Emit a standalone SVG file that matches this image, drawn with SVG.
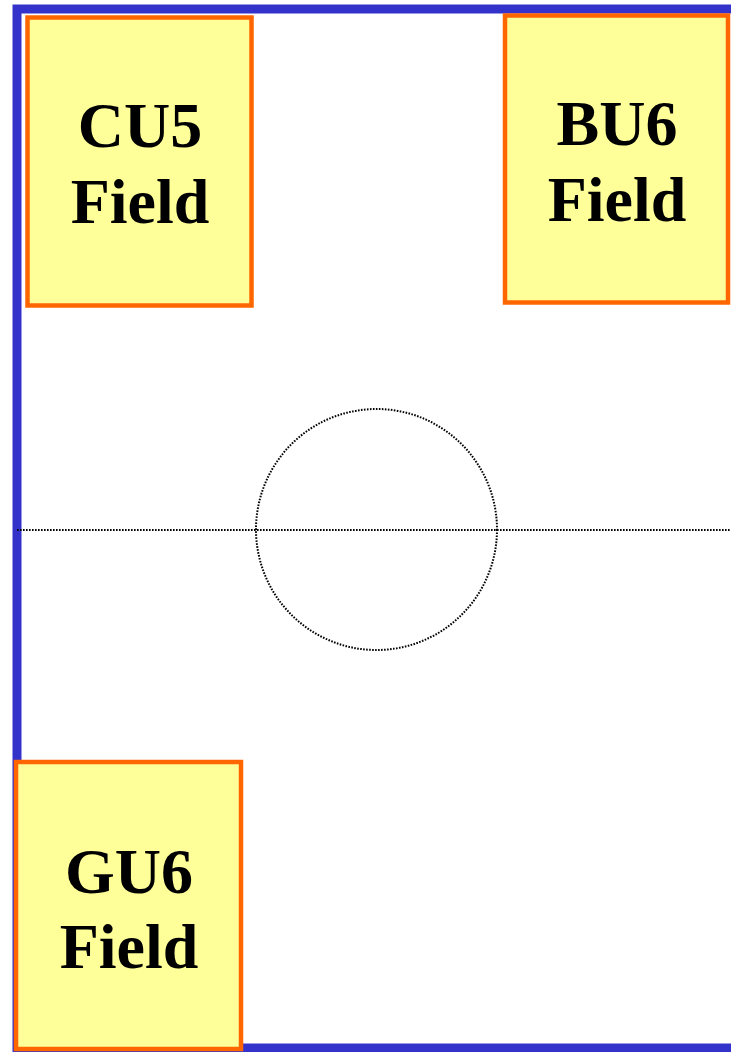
<svg xmlns="http://www.w3.org/2000/svg" width="731" height="1052" viewBox="0 0 731 1052">
<style>
.field{fill:#ffff99;stroke:#ff6600;stroke-width:4.5}
.lbl{font-family:"Liberation Serif","Times New Roman",serif;font-weight:bold;font-size:64px;fill:#000;text-anchor:middle}
.dot{fill:none;stroke:#000;stroke-width:2;stroke-dasharray:1.6 1.4}
</style>
<rect width="731" height="1052" fill="#fff"/>
<rect x="17" y="9" width="740" height="1039" fill="none" stroke="#3333cc" stroke-width="9"/>
<g id="markings">
<line class="dot" x1="17" y1="530" x2="731" y2="530"/>
<circle class="dot" cx="376.5" cy="529.5" r="120.5"/>
</g>
<g id="cu5">
<rect class="field" x="27.5" y="17.5" width="224" height="288"/>
<text class="lbl" x="140" y="147">CU5</text>
<text class="lbl" x="140" y="223">Field</text>
</g>
<g id="bu6">
<rect class="field" x="505" y="15.5" width="223" height="287"/>
<text class="lbl" x="617" y="145">BU6</text>
<text class="lbl" x="617" y="221">Field</text>
</g>
<g id="gu6">
<rect class="field" x="16" y="762" width="225" height="287"/>
<text class="lbl" x="129" y="893">GU6</text>
<text class="lbl" x="129" y="968">Field</text>
</g>
</svg>
